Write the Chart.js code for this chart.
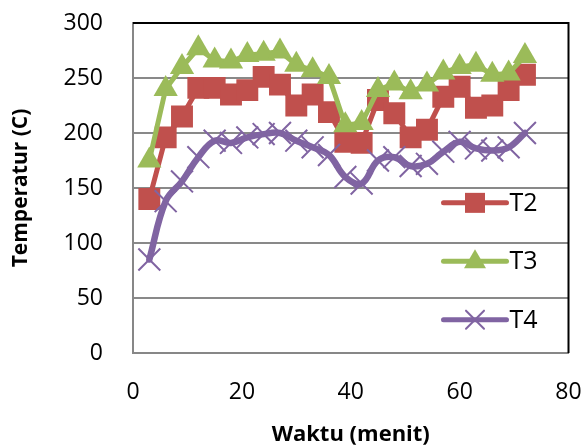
<!DOCTYPE html>
<html>
<head>
<meta charset="utf-8">
<script src="https://cdn.jsdelivr.net/npm/chart.js@4.4.0/dist/chart.umd.min.js"></script>
<style>
	html, body { margin: 0; padding: 0; background: #fff; }
</style>
</head>
<body>
<canvas id="chart" width="586" height="448"></canvas>
<script>
// waktu (menit) on x, temperatures
const waktu = [3, 6, 9, 12, 15, 18, 21, 24, 27, 30, 33, 36, 39, 42, 45, 48, 51, 54, 57, 60, 63, 66, 69, 72];
const t2 = [140, 196, 215, 241, 241, 235, 239, 251, 244, 225, 235, 219, 192, 191, 230, 218, 196, 203, 233, 242, 223, 225, 239, 253];
const t3 = [175, 240, 260, 277, 266, 265, 271, 272, 274, 262, 257, 251, 207, 209, 239, 245, 237, 244, 255, 260, 262, 253, 254, 270];
const t4 = [85, 138, 156, 178, 193, 191, 196, 199, 200, 193, 187, 180, 160, 154, 175, 178, 170, 172, 183, 192, 186, 184, 187, 200];
const seriesNames = ["T2", "T3", "T4"];
const xTicks = [0, 20, 40, 60, 80];
const yTicks = [0, 50, 100, 150, 200, 250, 300];

const FONT = "'Open Sans', Lato, sans-serif";
const colors = { T2: "#C0504D", T3: "#9BBB59", T4: "#8064A2" };

function pts(ys) {
	return waktu.map((x, i) => ({ x: x, y: ys[i] }));
}

// plot frame (top/right black) like the excel plot area
const frame = {
	id: "frame",
	afterDraw(chart) {
		const { ctx, chartArea: a } = chart;
		ctx.save();
		ctx.strokeStyle = "#000";
		ctx.lineWidth = 2;
		ctx.beginPath();
		ctx.moveTo(a.left, a.top);
		ctx.lineTo(a.right, a.top);
		ctx.lineTo(a.right, a.bottom);
		ctx.stroke();
		ctx.restore();
	}
};

function marker(ctx, style, color, x, y) {
	ctx.save();
	ctx.fillStyle = color;
	ctx.strokeStyle = color;
	if (style === "rect") {
		ctx.fillRect(x - 10, y - 10, 20, 20);
	} else if (style === "triangle") {
		ctx.beginPath();
		ctx.moveTo(x, y - 12);
		ctx.lineTo(x + 11, y + 7);
		ctx.lineTo(x - 11, y + 7);
		ctx.closePath();
		ctx.fill();
	} else {
		ctx.lineWidth = 2;
		ctx.beginPath();
		ctx.moveTo(x - 9, y - 9); ctx.lineTo(x + 9, y + 9);
		ctx.moveTo(x + 9, y - 9); ctx.lineTo(x - 9, y + 9);
		ctx.stroke();
	}
	ctx.restore();
}

// legend sits inside the plot, right side
const insideLegend = {
	id: "insideLegend",
	afterDraw(chart) {
		const { ctx, chartArea: a } = chart;
		const h = a.bottom - a.top;
		const styles = ["rect", "triangle", "crossRot"];
		ctx.save();
		seriesNames.forEach((name, i) => {
			const y = a.top + h * (0.545 + i * 0.177);
			const x0 = a.right - 125, x1 = a.right - 62;
			ctx.strokeStyle = colors[name];
			ctx.lineWidth = 5;
			ctx.lineCap = "round";
			ctx.beginPath();
			ctx.moveTo(x0, y);
			ctx.lineTo(x1, y);
			ctx.stroke();
			marker(ctx, styles[i], colors[name], (x0 + x1) / 2, y);
			ctx.fillStyle = "#000";
			ctx.font = "25px " + FONT;
			ctx.textBaseline = "middle";
			ctx.textAlign = "left";
			ctx.fillText(name, x1 + 3, y + 1);
		});
		ctx.restore();
	}
};

const data = {
	datasets: [
		{
			label: "T2", data: pts(t2), order: 3,
			borderColor: colors.T2, backgroundColor: colors.T2, borderWidth: 5,
			pointStyle: "rect", pointRadius: 15.5, pointBackgroundColor: colors.T2,
			pointBorderColor: colors.T2, pointBorderWidth: 0, tension: 0
		},
		{
			label: "T3", data: pts(t3), order: 2,
			borderColor: colors.T3, backgroundColor: colors.T3, borderWidth: 5,
			pointStyle: "triangle", pointRadius: 14, pointBackgroundColor: colors.T3,
			pointBorderColor: colors.T3, pointBorderWidth: 0, tension: 0
		},
		{
			label: "T4", data: pts(t4), order: 1,
			borderColor: colors.T4, backgroundColor: colors.T4, borderWidth: 6.5,
			pointStyle: "crossRot", pointRadius: 15.5, pointBorderColor: colors.T4,
			pointBorderWidth: 2, tension: 0.4
		}
	]
};

new Chart(document.getElementById("chart"), {
	type: "scatter",
	data: data,
	plugins: [frame, insideLegend],
	options: {
		responsive: false,
		animation: false,
		showLine: true,
		layout: { padding: { top: 23, right: 14, left: 0, bottom: 0 } },
		plugins: { legend: { display: false }, tooltip: { enabled: false } },
		elements: { line: { borderCapStyle: "round", borderJoinStyle: "round" } },
		scales: {
			x: {
				type: "linear", min: 0, max: 80,
				afterBuildTicks: s => { s.ticks = xTicks.map(v => ({ value: v })); },
				afterFit: s => { s.height = 95; s.paddingLeft = 0; s.paddingRight = 0; },
				grid: { display: false, drawTicks: false },
				border: { display: true, color: "#878787", width: 2 },
				ticks: { color: "#000", font: { family: FONT, size: 23 }, padding: 26, maxRotation: 0 },
				title: { display: true, text: "Waktu (menit)", color: "#000",
					font: { family: FONT, size: 22, weight: "bold" }, padding: { top: 0, bottom: 0 } }
			},
			y: {
				type: "linear", min: 0, max: 300,
				afterBuildTicks: s => { s.ticks = yTicks.map(v => ({ value: v })); },
				afterFit: s => { s.width = 133; s.paddingTop = 0; s.paddingBottom = 0; },
				grid: { color: "#898989", lineWidth: 2, drawTicks: false },
				border: { display: true, color: "#878787", width: 2 },
				ticks: { color: "#000", font: { family: FONT, size: 23 }, padding: 30 },
				title: { display: true, text: "Temperatur (C)", color: "#000",
					font: { family: FONT, size: 21, weight: "bold" }, padding: { top: 8, bottom: 0 } }
			}
		}
	}
});
</script>
</body>
</html>
